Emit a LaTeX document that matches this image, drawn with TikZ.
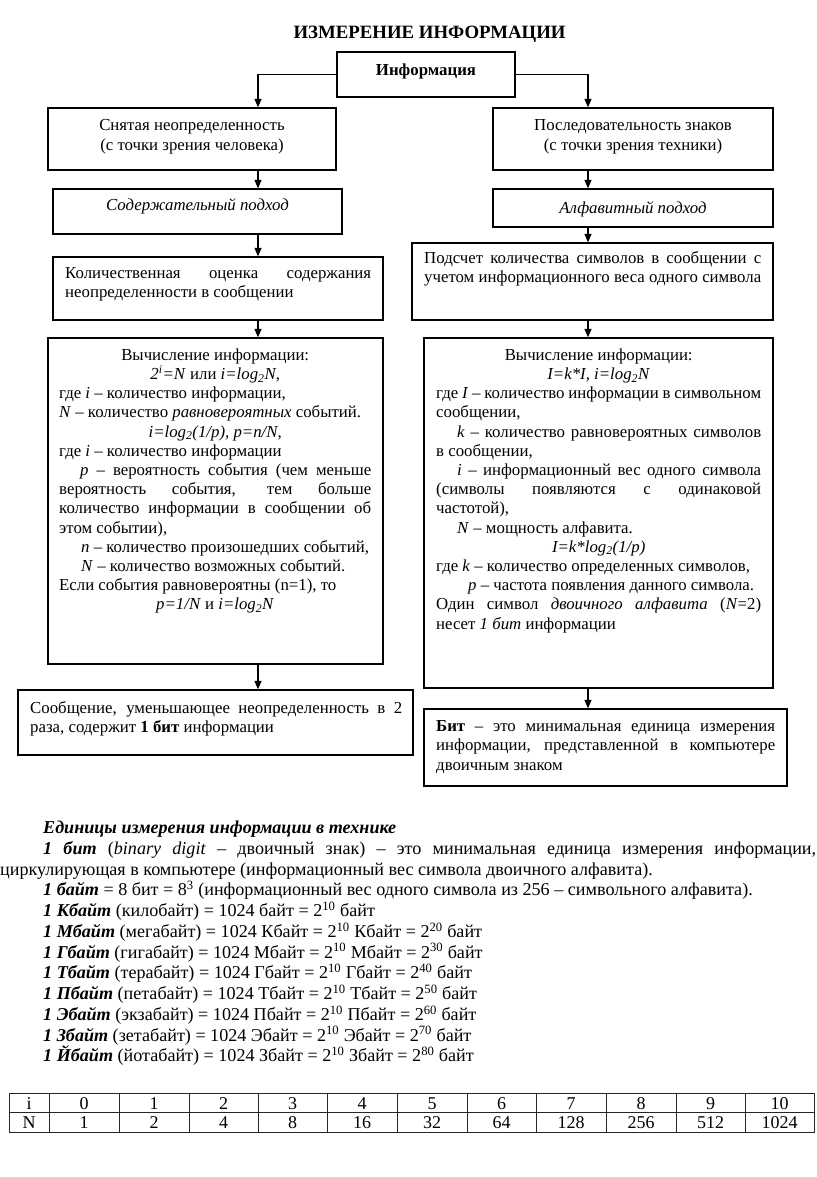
\documentclass[tikz,border=0pt]{standalone}
\usepackage{fontspec}
\setmainfont{Liberation Serif}
\usetikzlibrary{arrows.meta}
\newcommand\lnJ[1]{\hbox to\hsize{\strut#1}}
\newcommand\lnL[1]{\hbox to\hsize{\strut#1\hfil}}
\newcommand\lnC[1]{\hbox to\hsize{\strut\hfil#1\hfil}}
\newcommand\lnI[2]{\hbox to\hsize{\strut\kern#1pt #2\hfil}}
\newcommand\lnIJ[2]{\hbox to\hsize{\strut\kern#1pt #2}}
\newcommand\blk[2]{\vbox{\hsize=#1pt\relax\lineskiplimit=-1000pt\lineskip=0pt\relax #2}}
\newcommand\fsA{\fontsize{16.8}{19.2}\selectfont}
\newcommand\fsB{\fontsize{18.1}{20.75}\selectfont}
\newcommand\bi[1]{\textbf{\textit{#1}}}
\begin{document}
\begin{tikzpicture}[x=1pt,y=-1pt,
  box/.style={draw=black, line width=1.3pt, inner sep=0pt},
  arr/.style={line width=1.2pt, -{Triangle[length=8.5pt,width=7pt]}},
  txt/.style={inner sep=0pt, anchor=north west, font=\fsA},
  ctxt/.style={inner sep=0pt, anchor=base, font=\fsA},
  tline/.style={line width=0.9pt, draw=black!85},
  cell/.style={inner sep=0pt, anchor=base, font=\fontsize{18}{20}\selectfont}]
\useasboundingbox (0,0) rectangle (816,1177);
% title
\node[inner sep=0pt, anchor=base, font=\fontsize{18.8}{22}\selectfont\bfseries] (title) at (429.5,39) {ИЗМЕРЕНИЕ ИНФОРМАЦИИ};
% boxes
\node[box, minimum width=178pt, minimum height=45pt] (info) at (426,74.5) {};
\node[box, minimum width=288pt, minimum height=62pt] (L1) at (192,139) {};
\node[box, minimum width=280pt, minimum height=62pt] (R1) at (633,139) {};
\node[box, minimum width=289pt, minimum height=45pt] (L2) at (197.5,211.5) {};
\node[box, minimum width=280pt, minimum height=38pt] (R2) at (633,208) {};
\node[box, minimum width=330pt, minimum height=63pt] (L3) at (218,288.5) {};
\node[box, minimum width=361pt, minimum height=77pt] (R3) at (592.5,281.5) {};
\node[box, minimum width=335pt, minimum height=326pt] (L4) at (215.5,501) {};
\node[box, minimum width=349pt, minimum height=350pt] (R4) at (598.5,513) {};
\node[box, minimum width=395pt, minimum height=65pt] (L5) at (215.5,722.5) {};
\node[box, minimum width=363pt, minimum height=77pt] (R5) at (605.5,747.5) {};
% connectors
\coordinate (LX) at (258,0);
\coordinate (RX) at (588,0);
\draw[arr] (info.west) -| (L1.north -| LX);
\draw[arr] (info.east) -| (R1.north -| RX);
\draw[arr] (L1.south -| LX) -- (L2.north -| LX);
\draw[arr] (L2.south -| LX) -- (L3.north -| LX);
\draw[arr] (L3.south -| LX) -- (L4.north -| LX);
\draw[arr] (L4.south -| LX) -- (L5.north -| LX);
\draw[arr] (R1.south -| RX) -- (R2.north -| RX);
\draw[arr] (R2.south -| RX) -- (R3.north -| RX);
\draw[arr] (R3.south -| RX) -- (R4.north -| RX);
\draw[arr] (R4.south -| RX) -- (R5.north -| RX);
% texts
\node[ctxt, font=\fsA\bfseries] (tinfo) at (426,76) {Информация};
\node[txt, anchor=north, font=\fontsize{16.8}{20}\selectfont] (tL1) at (192,116.6) {\blk{280}{\lnC{Снятая неопределенность}\lnC{(с точки зрения человека)}}};
\node[txt, anchor=north, font=\fontsize{16.8}{20}\selectfont] (tR1) at (633,116.6) {\blk{270}{\lnC{Последовательность знаков}\lnC{(с точки зрения техники)}}};
\node[ctxt] (tL2) at (197.5,211) {\textit{Содержательный подход}};
\node[ctxt] (tR2) at (633,213) {\textit{Алфавитный подход}};
\node[txt] (tL3) at (65,264.6) {\blk{306}{%
\lnJ{Количественная оценка содержания}%
\lnL{неопределенности в сообщении}}};
\node[txt] (tR3) at (424,249.6) {\blk{337}{%
\lnJ{Подсчет количества символов в сообщении с}%
\lnJ{учетом информационного веса одного символа}}};
\node[txt] (tL4) at (59,346.6) {\blk{312}{%
\lnC{Вычисление информации:}%
\lnC{\textit{2\textsuperscript{i}=N} или \textit{i=log\textsubscript{2}N},}%
\lnL{где \textit{i} – количество информации,}%
\lnL{\textit{N} – количество \textit{равновероятных} событий.}%
\lnC{\textit{i=log\textsubscript{2}(1/p), p=n/N,}}%
\lnL{где \textit{i} – количество информации}%
\lnIJ{21}{\textit{p} – вероятность события (чем меньше}%
\lnJ{вероятность события, тем больше}%
\lnJ{количество информации в сообщении об}%
\lnL{этом событии),}%
\lnI{22}{\textit{n} – количество произошедших событий,}%
\lnI{22}{\textit{N} – количество возможных событий.}%
\lnL{Если события равновероятны (n=1), то}%
\lnC{\textit{p=1/N} и \textit{i=log\textsubscript{2}N}}}};
\node[txt] (tR4) at (436,346.6) {\blk{325}{%
\lnC{Вычисление информации:}%
\lnC{\textit{I=k*I, i=log\textsubscript{2}N}}%
\lnJ{где \textit{I} – количество информации в символьном}%
\lnL{сообщении,}%
\lnIJ{21}{\textit{k} – количество равновероятных символов}%
\lnL{в сообщении,}%
\lnIJ{21}{\textit{i} – информационный вес одного символа}%
\lnJ{(символы появляются с одинаковой}%
\lnL{частотой),}%
\lnI{21}{\textit{N} – мощность алфавита.}%
\lnC{\textit{I=k*log\textsubscript{2}(1/p)}}%
\lnL{где \textit{k} – количество определенных символов,}%
\lnI{32}{\textit{p} – частота появления данного символа.}%
\lnJ{Один символ \textit{двоичного алфавита} (\textit{N}=2)}%
\lnL{несет \textit{1 бит} информации}}};
\node[txt] (tL5) at (30,699.6) {\blk{372}{%
\lnJ{Сообщение, уменьшающее неопределенность в 2}%
\lnL{раза, содержит \textbf{1 бит} информации}}};
\node[txt, font=\fontsize{16.8}{19.5}\selectfont] (tR5) at (436,717.6) {\blk{339}{%
\lnJ{\textbf{Бит} – это минимальная единица измерения}%
\lnJ{информации, представленной в компьютере}%
\lnL{двоичным знаком}}};
% units text
\node[txt, font=\fsB] (units) at (0,819) {\blk{816}{%
\lnI{43}{\bi{Единицы измерения информации в технике}}%
\lnIJ{43}{\bi{1 бит} (\textit{binary digit} – двоичный знак) – это минимальная единица измерения информации,}%
\lnL{циркулирующая в компьютере (информационный вес символа двоичного алфавита).}%
\lnI{43}{\bi{1 байт} = 8 бит = 8\textsuperscript{3} (информационный вес одного символа из 256 – символьного алфавита).}%
\lnI{43}{\bi{1 Кбайт} (килобайт) = 1024 байт = 2\textsuperscript{10} байт}%
\lnI{43}{\bi{1 Мбайт} (мегабайт) = 1024 Кбайт = 2\textsuperscript{10} Кбайт = 2\textsuperscript{20} байт}%
\lnI{43}{\bi{1 Гбайт} (гигабайт) = 1024 Мбайт = 2\textsuperscript{10} Мбайт = 2\textsuperscript{30} байт}%
\lnI{43}{\bi{1 Тбайт} (терабайт) = 1024 Гбайт = 2\textsuperscript{10} Гбайт = 2\textsuperscript{40} байт}%
\lnI{43}{\bi{1 Пбайт} (петабайт) = 1024 Тбайт = 2\textsuperscript{10} Тбайт = 2\textsuperscript{50} байт}%
\lnI{43}{\bi{1 Эбайт} (экзабайт) = 1024 Пбайт = 2\textsuperscript{10} Пбайт = 2\textsuperscript{60} байт}%
\lnI{43}{\bi{1 Збайт} (зетабайт) = 1024 Эбайт = 2\textsuperscript{10} Эбайт = 2\textsuperscript{70} байт}%
\lnI{43}{\bi{1 Йбайт} (йотабайт) = 1024 Збайт = 2\textsuperscript{10} Збайт = 2\textsuperscript{80} байт}}};
% table
\draw[tline] (9,1093) rectangle (814,1132);
\draw[tline] (9,1112.5) -- (814,1112.5);
\foreach \xx in {49,119,189,258,327,397,467,536,606,676,745} \draw[tline] (\xx,1093) -- (\xx,1132);
\foreach \k/\xa/\xb/\va/\vb in {h/9/49/i/N, 0/49/119/0/1, 1/119/189/1/2, 2/189/258/2/4, 3/258/327/3/8, 4/327/397/4/16, 5/397/467/5/32, 6/467/536/6/64, 7/536/606/7/128, 8/606/676/8/256, 9/676/745/9/512, 10/745/814/10/1024} {
  \node[cell] (ci\k) at ({(\xa+\xb)/2},1109) {\va};
  \node[cell] (cn\k) at ({(\xa+\xb)/2},1128.5) {\vb};
}
\end{tikzpicture}
\end{document}
